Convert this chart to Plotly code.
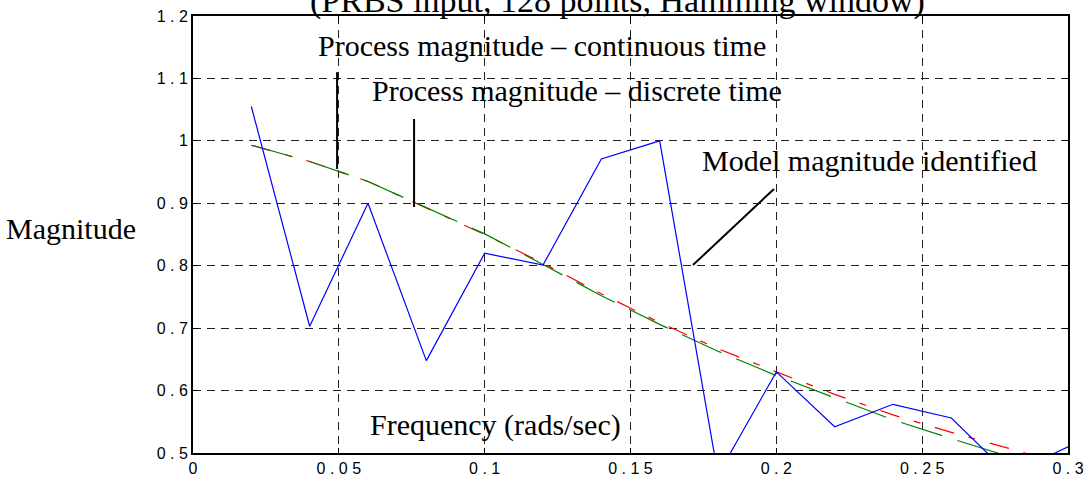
import plotly.graph_objects as go

# Frequency grid (rad/s)
freq = [0.02, 0.04, 0.06, 0.08, 0.10, 0.12, 0.14, 0.16, 0.18, 0.20,
        0.22, 0.24, 0.26, 0.28, 0.30]

# Identified model magnitude (PRBS, 128 points, Hamming window)
model_mag = [1.055, 0.703, 0.900, 0.648, 0.820, 0.801, 0.971, 1.000, 0.465, 0.630,
             0.542, 0.578, 0.556, 0.465, 0.510]

# Process magnitude, continuous time
proc_cont = [0.993, 0.967, 0.935, 0.893, 0.850, 0.804, 0.755, 0.709, 0.667, 0.630,
             0.594, 0.561, 0.533, 0.507, 0.480]

# Process magnitude, discrete time
proc_disc = [0.993, 0.967, 0.935, 0.893, 0.851, 0.802, 0.752, 0.706, 0.663, 0.624,
             0.588, 0.553, 0.523, 0.494, 0.470]

x_ticks = [0, 0.05, 0.1, 0.15, 0.2, 0.25, 0.3]
x_tick_text = ["0", "0 . 0 5", "0 . 1", "0 . 1 5", "0 . 2", "0 . 2 5", "0 . 3"]
y_ticks = [0.5, 0.6, 0.7, 0.8, 0.9, 1.0, 1.1, 1.2]
y_tick_text = ["0 . 5", "0 . 6", "0 . 7", "0 . 8", "0 . 9", "1", "1 . 1", "1 . 2"]

SERIF = "Liberation Serif, Times New Roman, serif"
SANS = "Liberation Sans, Arial, sans-serif"

fig = go.Figure()
fig.add_trace(go.Scatter(x=freq, y=proc_cont, mode="lines",
                         line=dict(color="#ff0000", width=1.2, dash="20px,15px,7px,15px"),
                         showlegend=False))
fig.add_trace(go.Scatter(x=freq, y=proc_disc, mode="lines",
                         line=dict(color="#008000", width=1.2, dash="43px,16px"),
                         showlegend=False))
fig.add_trace(go.Scatter(x=freq, y=model_mag, mode="lines",
                         line=dict(color="#0000ff", width=1.2),
                         showlegend=False))

# pointer lines from the labels to the curves
pointers = [
    (0.0494, 1.110, 0.0494, 0.955),
    (0.0758, 1.035, 0.0758, 0.894),
    (0.1714, 0.801, 0.1992, 0.923),
]
for x0, y0, x1, y1 in pointers:
    fig.add_shape(type="line", x0=x0, y0=y0, x1=x1, y1=y1, xref="x", yref="y",
                  line=dict(color="black", width=2))

L, R, T, B = 193, 16, 16, 24
W, H = 1084, 477
pw, ph = W - L - R, H - T - B


def px(xp):
    return (xp - L) / pw


def py(yp):
    return (H - B - yp) / ph


labels = [
    ("(PRBS input, 128 points, Hamming window)", 617, 1, 34, "center"),
    ("Process magnitude \u2013 continuous time", 316, 45, 30, "left"),
    ("Process magnitude \u2013 discrete time", 370, 90, 30, "left"),
    ("Model magnitude identified", 700, 160, 30, "left"),
    ("Frequency (rads/sec)", 368, 425, 30, "left"),
    ("Magnitude", 4, 228, 30, "left"),
]
for text, xp, yp, size, anchor in labels:
    fig.add_annotation(text=text, x=px(xp), y=py(yp), xref="paper", yref="paper",
                       xanchor=anchor, yanchor="middle", showarrow=False,
                       font=dict(family=SERIF, size=size, color="black"))

axis_common = dict(
    showline=True, linecolor="black", linewidth=2, mirror="allticks",
    ticks="inside", ticklen=5, tickwidth=1, tickcolor="black",
    showgrid=True, gridcolor="#222222", gridwidth=1, griddash="8px,6px",
    zeroline=False, automargin=False,
    tickfont=dict(family=SANS, size=16, color="black"),
)

fig.update_xaxes(range=[0, 0.3], tickvals=x_ticks, ticktext=x_tick_text, **axis_common)
fig.update_yaxes(range=[0.5, 1.2], tickvals=y_ticks, ticktext=y_tick_text, **axis_common)

fig.update_layout(
    width=W, height=H,
    margin=dict(l=L, r=R, t=T, b=B, autoexpand=False),
    paper_bgcolor="white", plot_bgcolor="white",
    showlegend=False,
)

fig.write_html("out.html")
